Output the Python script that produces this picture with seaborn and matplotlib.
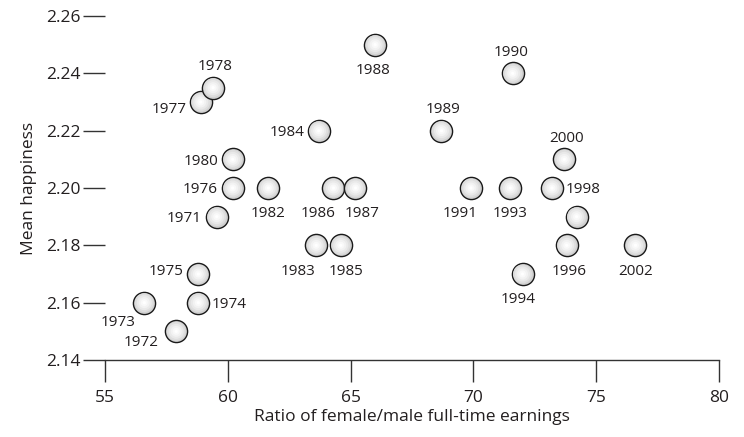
import matplotlib
matplotlib.use("Agg")
import matplotlib.pyplot as plt
import pandas as pd
import seaborn as sns

# values
years = ["1971", "1972", "1973", "1974", "1975", "1976", "1977", "1978", "1980",
         "1982", "1983", "1984", "1985", "1986", "1987", "1988", "1989", "1990",
         "1991", "1993", "1994", "1996", "1998", "", "2000", "2002"]
ratio = [59.55, 57.9, 56.6, 58.8, 58.8, 60.2, 58.9, 59.4, 60.2,
         61.65, 63.6, 63.7, 64.6, 64.3, 65.2, 66.0, 68.7, 71.6,
         69.9, 71.5, 72.0, 73.8, 73.2, 74.2, 73.7, 76.6]
happiness = [2.19, 2.15, 2.16, 2.16, 2.17, 2.20, 2.23, 2.235, 2.21,
             2.20, 2.18, 2.22, 2.18, 2.20, 2.20, 2.25, 2.22, 2.24,
             2.20, 2.20, 2.17, 2.18, 2.20, 2.19, 2.21, 2.18]
x_ticks = [55, 60, 65, 70, 75, 80]
y_ticks = [2.14, 2.16, 2.18, 2.20, 2.22, 2.24, 2.26]

df = pd.DataFrame({"year": years, "ratio": ratio, "happiness": happiness})

# where each label sits relative to its circle
label_side = {
    "1971": "left", "1972": "1972", "1973": "1973", "1974": "right",
    "1975": "1975", "1976": "left", "1977": "1977", "1978": "above",
    "1980": "left", "1982": "below", "1983": "below", "1984": "left",
    "1985": "below", "1986": "below", "1987": "below", "1988": "below",
    "1989": "above", "1990": "above", "1991": "below", "1993": "below",
    "1994": "below", "1996": "below", "1998": "right", "2000": "above",
    "2002": "below",
}
offsets = {
    "left": ((-10.5, -3.85), "right"),
    "right": ((9.5, -3.85), "left"),
    "above": ((0, 12.4), "center"),
    "below": ((0, -21.1), "center"),
    "1972": ((-25.2, -10.3), "center"),
    "1973": ((-19.1, -16.8), "center"),
    "1975": ((-10.5, -0.7), "right"),
    "1977": ((-10, -8.2), "right"),
}
# small sideways nudges so crowded labels sit apart
nudge = {"1983": -13, "1985": 4, "1986": -11, "1987": 5, "1991": -7.7,
         "1994": -3.4, "1988": -1.8, "1996": 1.4, "2000": 2, "1978": 1.4,
         "1989": 1.4, "1990": -1.3}

sns.set_theme(style="white")
plt.rcParams["font.family"] = ["Open Sans", "DejaVu Sans"]
ink = "#231f20"

fig, ax = plt.subplots(figsize=(7.44, 4.37), dpi=100)
fig.subplots_adjust(left=0.1411, right=0.9664, bottom=0.1762, top=0.9634)

# fake shaded spheres: outlined base plus lighter concentric layers
layers = [(1.0, "#d0d0d0"), (0.85, "#dedede"), (0.68, "#e9e9e9"),
          (0.5, "#f2f2f2"), (0.32, "#f9f9f9"), (0.15, "#ffffff")]
base_size = 255
for i in range(len(df)):
    row = df.iloc[[i]]
    for k, (frac, col) in enumerate(layers):
        sns.scatterplot(
            data=row, x="ratio", y="happiness", ax=ax,
            s=base_size * frac ** 2, color=col,
            edgecolor="#1a1a1a" if k == 0 else "none",
            linewidth=1.0 if k == 0 else 0,
            legend=False, zorder=3 + i * 0.01 + k * 0.001,
        )

for yr, xv, yv in zip(years, ratio, happiness):
    if not yr:
        continue
    (dx, dy), ha = offsets[label_side[yr]]
    ax.annotate(yr, (xv, yv), xytext=(dx + nudge.get(yr, 0), dy),
                textcoords="offset points", ha=ha, va="baseline",
                fontsize=11, color=ink, zorder=5)

ax.set_xlim(55, 80)
ax.set_ylim(2.14, 2.26)
ax.set_xticks(x_ticks)
ax.set_yticks(y_ticks)
ax.set_yticklabels([f"{v:.2f}" for v in y_ticks])

for side in ["left", "top", "right"]:
    ax.spines[side].set_visible(False)
ax.spines["bottom"].set_color("#333333")
ax.spines["bottom"].set_linewidth(1.0)

ax.tick_params(axis="x", bottom=True, direction="out", length=15.8, width=1.0,
               color="#333333", pad=6, labelsize=12.5, labelcolor=ink)
ax.tick_params(axis="y", left=True, direction="out", length=15.8, width=1.0,
               color="#333333", pad=2, labelsize=12.5, labelcolor=ink)

ax.set_xlabel("Ratio of female/male full-time earnings", fontsize=12.5,
              color=ink, labelpad=2)
ax.set_ylabel("Mean happiness", fontsize=12.5, color=ink, labelpad=6)

fig.savefig("out.png", dpi=100)
